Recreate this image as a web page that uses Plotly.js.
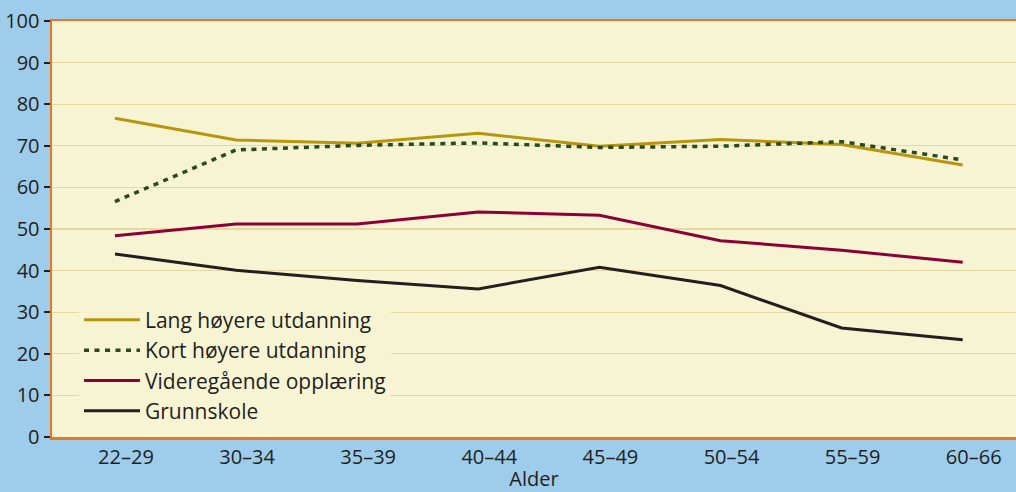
<!DOCTYPE html>
<html>
<head>
<meta charset="utf-8">
<script src="https://cdn.plot.ly/plotly-3.0.1.min.js"></script>
<style>html,body{margin:0;padding:0;background:#9dcdeb;}#chart{width:1016px;height:492px;}</style>
</head>
<body>
<div id="chart"></div>
<script>
var categories = ["22–29","30–34","35–39","40–44","45–49","50–54","55–59","60–66"];
var langHoyere = [76.6, 71.4, 70.6, 73.0, 69.9, 71.5, 70.3, 65.4];
var kortHoyere = [56.6, 69.0, 70.1, 70.7, 69.6, 69.9, 71.0, 66.6];
var videregaende = [48.4, 51.2, 51.2, 54.1, 53.3, 47.2, 44.9, 42.0];
var grunnskole = [44.0, 40.1, 37.6, 35.6, 40.8, 36.4, 26.2, 23.4];
var seriesNames = ["Lang høyere utdanning","Kort høyere utdanning","Videregående opplæring","Grunnskole"];
var yTicks = [0,10,20,30,40,50,60,70,80,90,100];

var idx = categories.map(function(c,i){return i;});
var font = "'Open Sans', 'Noto Sans', sans-serif";

function tr(y, name, color, dash, grp){
  return {x: idx, y: y, name: name, type: 'scatter', mode: 'lines', legendgroup: grp,
    line: {color: color, width: dash ? 3.5 : 3, dash: dash || 'solid'}, hoverinfo: 'skip'};
}
var data = [
  tr(langHoyere, seriesNames[0], '#b8960c', null, 'a'),
  tr(kortHoyere, seriesNames[1], '#284a1c', '5px,5.5px', 'b'),
  tr(videregaende, seriesNames[2], '#8c0038', null, 'c'),
  tr(grunnskole, seriesNames[3], '#231f20', null, 'd')
];

var layout = {
  width: 1016, height: 492,
  paper_bgcolor: '#9dcdeb', plot_bgcolor: '#f7f4d3',
  margin: {l: 52, r: 0, t: 21, b: 55},
  font: {family: font, size: 20, color: '#231f20'},
  showlegend: true,
  legend: {x: 0.028, y: 0.33, xanchor: 'left', yanchor: 'top', bgcolor: '#f7f4d3',
    borderwidth: 0, font: {family: font, size: 21, color: '#231f20'}, itemwidth: 56,
    tracegroupgap: 0, traceorder: 'normal'},
  xaxis: {type: 'linear', range: [-0.52, 7.44], tickvals: idx, ticktext: categories,
    showgrid: false, zeroline: false, showline: true, linecolor: '#e87722', linewidth: 2.5,
    mirror: true, ticks: '', ticklabelshift: 11, tickfont: {size: 20},
    title: {text: 'Alder', font: {size: 20}, standoff: 3}},
  yaxis: {range: [0, 100], tickvals: yTicks, showgrid: true, gridcolor: '#ead7a0', gridwidth: 1.2,
    zeroline: false, showline: true, linecolor: '#e87722', linewidth: 2.5,
    ticks: 'outside', ticklen: 6, tickwidth: 2, tickcolor: '#231f20', tickfont: {size: 20}}
};
Plotly.newPlot('chart', data, layout, {displayModeBar: false, staticPlot: true});
</script>
</body>
</html>
